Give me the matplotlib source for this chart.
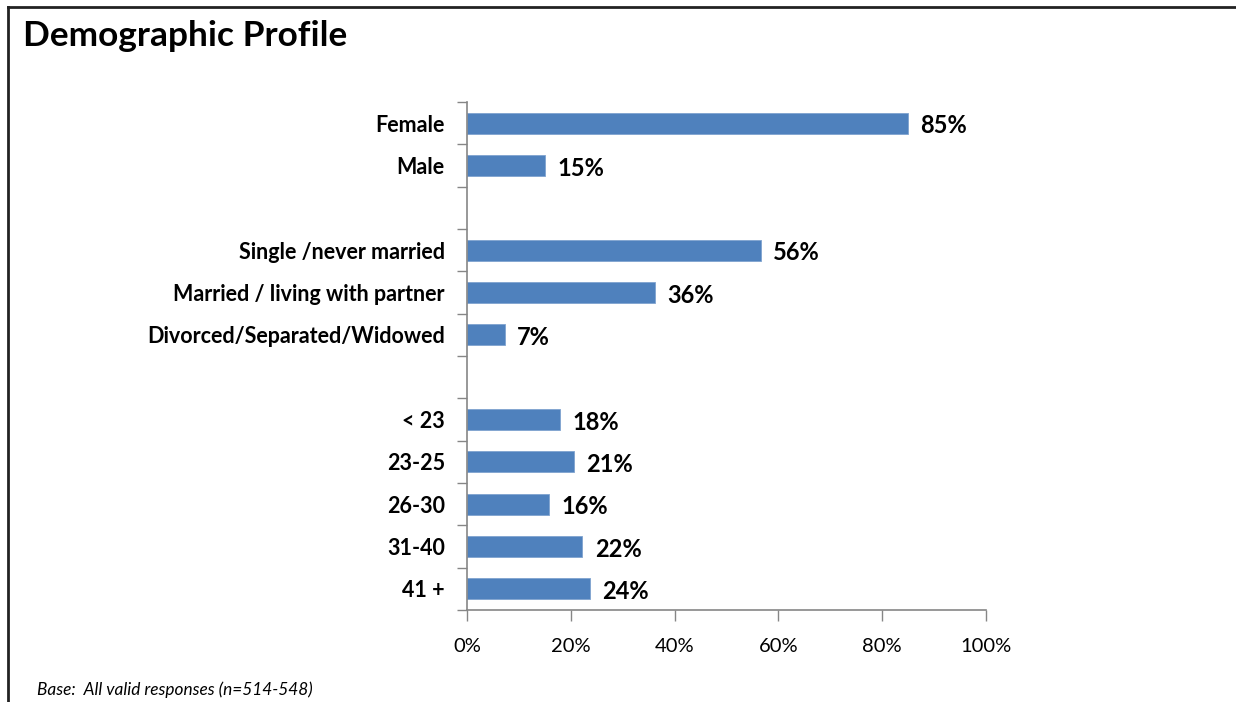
import matplotlib
matplotlib.use("Agg")
import matplotlib.pyplot as plt
from matplotlib.lines import Line2D
from matplotlib.ticker import FuncFormatter

categories = ["Female", "Male", "",
              "Single /never married", "Married / living with partner",
              "Divorced/Separated/Widowed", "",
              "< 23", "23-25", "26-30", "31-40", "41 +"]
values = [0.85, 0.15, None, 0.566, 0.362, 0.073, None,
          0.179, 0.206, 0.158, 0.222, 0.237]
value_labels = ["85%", "15%", "", "56%", "36%", "7%", "",
                "18%", "21%", "16%", "22%", "24%"]
x_ticks = [0, 0.2, 0.4, 0.6, 0.8, 1.0]

FONT = "Lato"
plt.rcParams["font.family"] = [FONT, "DejaVu Sans"]

W, H = 1236, 702
fig = plt.figure(figsize=(W / 100, H / 100), dpi=100)
ax = fig.add_axes([467 / W, 1 - 610 / H, (986 - 467) / W, (610 - 102) / H])

n = len(categories)
ypos = list(range(n))
bar_color = "#4F81BD"
for y, v in zip(ypos, values):
    if v is None:
        continue
    ax.barh(y, v, height=0.5, color=bar_color, edgecolor="#7FA3CF", linewidth=0.6)

for y, v, lab in zip(ypos, values, value_labels):
    if v is None:
        continue
    ax.text(v + 0.024, y + 0.06, lab, va="center", ha="left", fontsize=17,
            fontweight="bold", color="black")

ax.set_ylim(n - 0.5, -0.5)
ax.set_xlim(0, 1.0)
ax.set_yticks(ypos)
ax.set_yticklabels(categories, fontsize=15.5, fontweight="bold")
ax.set_yticks([i - 0.5 for i in range(n + 1)], minor=True)
ax.tick_params(axis="y", which="major", length=0, pad=16)
ax.tick_params(axis="y", which="minor", length=7, width=1, color="#868686")
ax.set_xticks(x_ticks)
ax.xaxis.set_major_formatter(FuncFormatter(lambda v, p: f"{int(round(v * 100))}%"))
ax.tick_params(axis="x", which="major", direction="out", length=8, width=1,
               color="#868686", labelsize=14.5, pad=12)
for s in ["top", "right"]:
    ax.spines[s].set_visible(False)
for s in ["left", "bottom"]:
    ax.spines[s].set_color("#868686")
    ax.spines[s].set_linewidth(1.2)

# frame lines (top and left)
fig.add_artist(Line2D([7.5 / W, 1.0], [1 - 6.5 / H, 1 - 6.5 / H], color="#222222", linewidth=2))
fig.add_artist(Line2D([7.5 / W, 7.5 / W], [0, 1 - 6.5 / H], color="#222222", linewidth=2))

fig.text(23 / W, 1 - 36 / H, "Demographic Profile", fontsize=25.4, fontweight="bold",
         va="center", ha="left")
fig.text(37 / W, 1 - 690 / H, "Base:  All valid responses (n=514-548)", fontsize=12.4,
         style="italic", va="center", ha="left")

fig.savefig("out.png", dpi=100)
